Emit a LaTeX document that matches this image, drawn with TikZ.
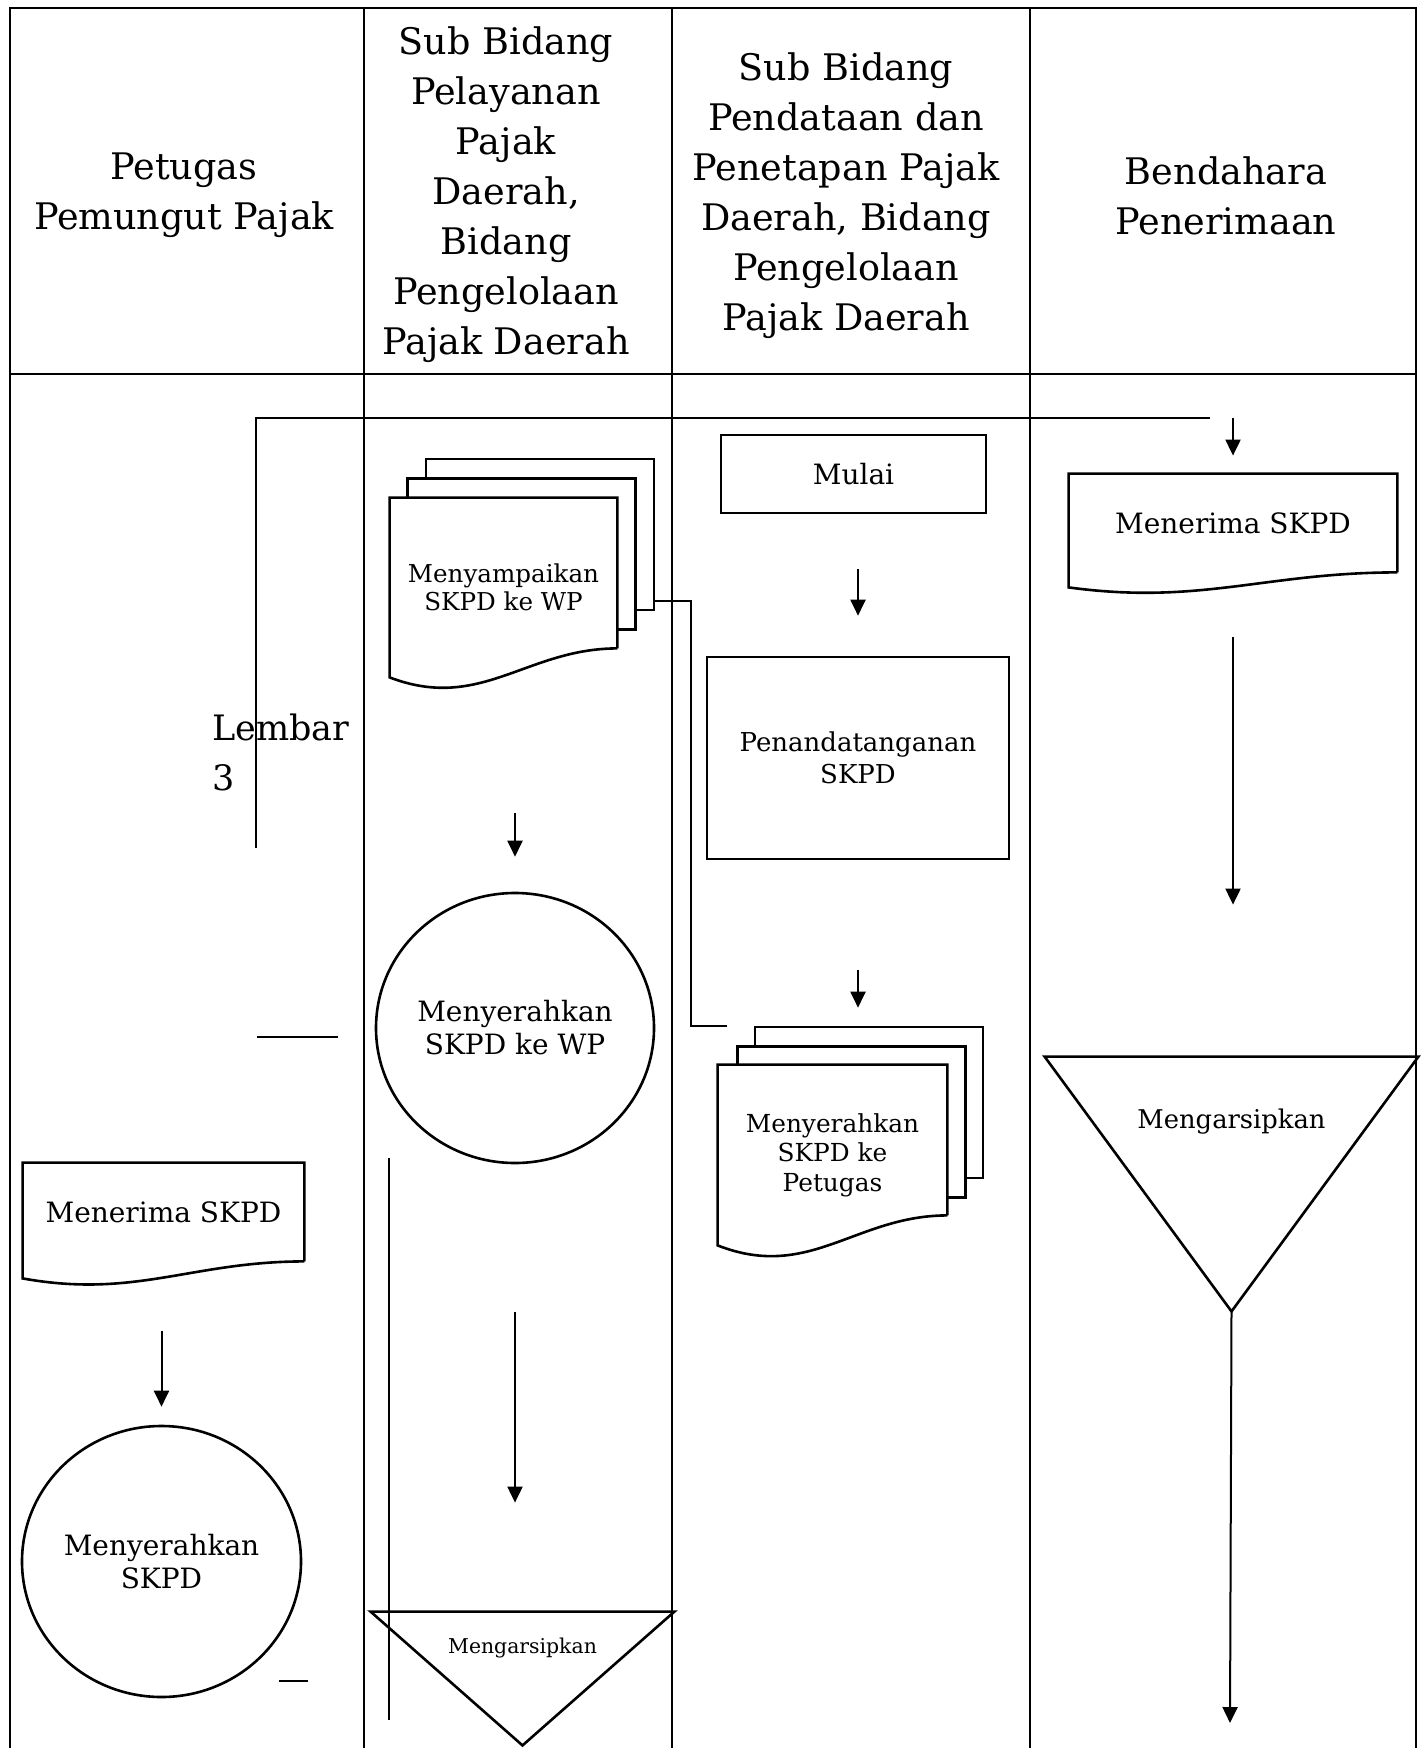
\documentclass[tikz,border=0pt]{standalone}
\usepackage{fontspec}
\setmainfont{DejaVu Serif}
\usetikzlibrary{arrows.meta,calc,shapes.geometric}

\newcommand{\wavedoc}[3]{%
  \draw[shape line] ($(#1.south east)+(0,-#3)$) -- (#1.north east) -- (#1.north west) -- ($(#1.south west)+(0,#2)$)
    .. controls ($(#1.south west)!0.4!(#1.south east)+(0,#2+1.2*#2+1.2*#3)$) and ($(#1.south east)!0.4!(#1.south west)+(0,-#3)$) .. ($(#1.south east)+(0,-#3)$);}

\begin{document}
\begin{tikzpicture}[x=0.5pt, y=-0.5pt,
  frame line/.style={line width=1.4pt},
  lane/.style={line width=0.9pt},
  shape line/.style={line width=1.3pt},
  link/.style={line width=1pt},
  arrow/.style={line width=1pt, -{Stealth[inset=0pt, length=8pt, width=7.5pt]}},
  head/.style={align=center, inner sep=0pt, font=\fontsize{18.3}{25}\selectfont},
  big text/.style={align=center, inner sep=0pt, font=\fontsize{14}{16.5}\selectfont},
  mid text/.style={align=center, inner sep=0pt, font=\fontsize{12.4}{14.5}\selectfont},
  small text/.style={align=center, inner sep=0pt, font=\fontsize{10.2}{12}\selectfont},
  box/.style={rectangle, draw, shape line, inner sep=0pt},
  doc/.style={rectangle, fill=white, inner sep=0pt},
  sheet/.style={rectangle, draw, fill=white, shape line, minimum width=114pt, minimum height=75.5pt},
  bulat/.style={ellipse, draw, shape line, inner sep=0pt},
  segitiga/.style={rectangle, inner sep=0pt}]
	\useasboundingbox (0,0) rectangle (1421,1748);
	
	\draw[frame line] (10,1748) -- (10,8) -- (1416,8) -- (1416,1748);
	\draw[frame line] (10,374) -- (1416,374);
	\foreach \x in {364,672,1030}
		\draw[lane] (\x,8) -- (\x,1748);
	
	\node[head] (kol1) at (184,195) {Petugas\\Pemungut Pajak};
	\node[head] (kol2) at (506,195) {Sub Bidang\\Pelayanan\\Pajak\\Daerah,\\Bidang\\Pengelolaan\\Pajak Daerah};
	\node[head] (kol3) at (846,196) {Sub Bidang\\Pendataan dan\\Penetapan Pajak\\Daerah, Bidang\\Pengelolaan\\Pajak Daerah};
	\node[head] (kol4) at (1226,196) {Bendahara\\Penerimaan};
	
	\node[box, big text, minimum width=132.5pt, minimum height=39pt] (mulai) at (853.5,474) {Mulai};
	\node[box, mid text, font=\fontsize{13}{16}\selectfont, minimum width=151pt, minimum height=101pt] (tanda) at (858,758) {Penandatanganan\\SKPD};
	
	\node[doc, big text, minimum width=164pt, minimum height=49pt] (terima4) at (1233,523) {Menerima SKPD};
	\wavedoc{terima4}{15}{0}
	\node[doc, big text, minimum width=140.5pt, minimum height=49pt] (terima1) at (163.5,1212) {Menerima SKPD};
	\wavedoc{terima1}{17}{0}
	
	\node[sheet] (wp1) at (540,534.5) {};
	\node[sheet] (wp2) at (521.5,554) {};
	\node[doc, mid text, font=\fontsize{12.3}{14}\selectfont, minimum width=113.5pt, minimum height=89.5pt] (wp3) at (503.5,587.5) {Menyampaikan\\SKPD ke WP};
	\wavedoc{wp3}{0}{29}
	
	\node[sheet] (ptg1) at (869,1102.5) {};
	\node[sheet] (ptg2) at (851.5,1122) {};
	\node[doc, mid text, font=\fontsize{12.4}{14.75}\selectfont, minimum width=114.5pt, minimum height=90pt] (ptg3) at (832.5,1155) {Menyerahkan\\SKPD ke\\Petugas};
	\wavedoc{ptg3}{0}{30}
	
	\node[bulat, big text, minimum width=139pt, minimum height=135pt] (serah2) at (515,1028) {Menyerahkan\\SKPD ke WP};
	\node[bulat, big text, minimum width=139.5pt, minimum height=135.5pt] (serah1) at (161.5,1561.5) {Menyerahkan\\SKPD};
	
	\node[segitiga, minimum width=186.5pt, minimum height=127pt] (arsip4) at (1231.5,1184) {};
	\draw[shape line] (arsip4.north west) -- (arsip4.north east) -- (arsip4.south) -- cycle;
	\node[mid text, font=\fontsize{12.9}{15}\selectfont] (arsip4teks) at ([yshift=-32.5pt]arsip4.north) {Mengarsipkan};
	\node[segitiga, minimum width=151.5pt, minimum height=66.5pt] (arsip2) at (522.5,1678.5) {};
	\draw[shape line] (arsip2.north west) -- (arsip2.north east) -- (arsip2.south) -- cycle;
	\node[small text] (arsip2teks) at ([yshift=-18pt]arsip2.north) {Mengarsipkan};
	
	\node[head, font=\fontsize{17.5}{25}\selectfont, align=left, anchor=west] (lembar) at (212,752) {Lembar\\3};
	
	\coordinate (lembarbawah) at (256,848);
	\coordinate (lembarujung) at (1210,418);
	\coordinate (wpujung) at (727,1026);
	\coordinate (garis1a) at (257,1037);
	\coordinate (garis1b) at (338,1037);
	\coordinate (garis2a) at (389,1158);
	\coordinate (garis2b) at (389,1720);
	\coordinate (garis3a) at (279,1681);
	\coordinate (garis3b) at (308,1681);
	\coordinate (arsipujung4) at (1230,1723);
	
	\draw[link] (lembarbawah) |- (lembarujung);
	\draw[link] ($(wp1.south east)+(0,-10)$) -- ++(36,0) |- (wpujung);
	\draw[link] (garis1a) -- (garis1b);
	\draw[link] (garis2a) -- (garis2b);
	\draw[link] (garis3a) -- (garis3b);
	
	\draw[arrow, shorten >=9pt] (terima4.north |- lembarujung) -- (terima4.north);
	\draw[arrow, shorten <=27.5pt, shorten >=20pt] (mulai.south -| tanda.north) -- (tanda.north);
	\draw[arrow, shorten <=55pt, shorten >=9pt] (tanda.south) -- (tanda.south |- ptg1.north);
	\draw[arrow, shorten <=68pt, shorten >=17.5pt] (wp3.south -| serah2.north) -- (serah2.north);
	\draw[arrow, shorten <=32.5pt, shorten >=76pt] (terima4.south) -- (terima4.south |- arsip4.north);
	\draw[arrow] (arsip4.south) -- (arsipujung4);
	\draw[arrow, shorten <=35pt, shorten >=9pt] (terima1.south -| serah1.north) -- (serah1.north);
	\draw[arrow, shorten <=74pt, shorten >=54.5pt] (serah2.south) -- (serah2.south |- arsip2.north);
\end{tikzpicture}
\end{document}
